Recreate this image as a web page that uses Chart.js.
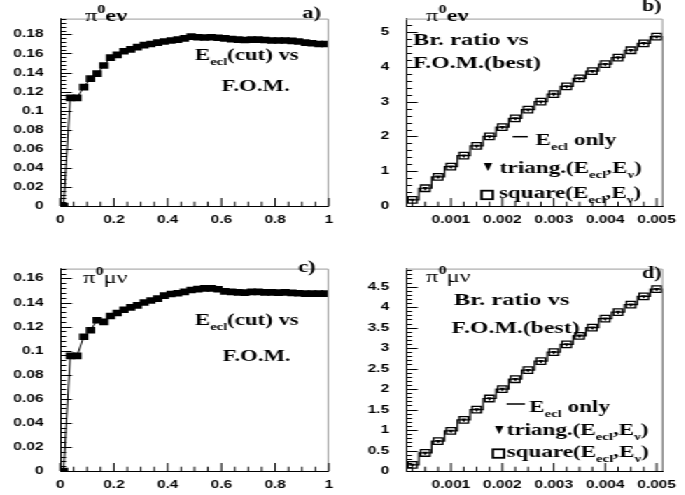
<!DOCTYPE html>
<html>
<head>
<meta charset="utf-8">
<script src="https://cdn.jsdelivr.net/npm/chart.js@4.4.0/dist/chart.umd.min.js"></script>
<style>
html, body { margin: 0; padding: 0; background: #fff; overflow: hidden; }
/* the reference is a squeezed ROOT canvas, so draw narrow and stretch it */
#page { position: absolute; left: 0; top: 0; width: 490px; height: 495px; transform: scaleX(1.4); transform-origin: 0 0; }
#page canvas { position: absolute; }
</style>
</head>
<body>
<div id="page">
  <canvas id="cA" width="245" height="245" style="left:0;top:0"></canvas>
  <canvas id="cB" width="245" height="245" style="left:245px;top:0"></canvas>
  <canvas id="cC" width="245" height="245" style="left:0;top:250px"></canvas>
  <canvas id="cD" width="245" height="245" style="left:245px;top:250px"></canvas>
</div>
<script>
// E_ecl cut scan (bin centres) vs figure of merit
const fomX = [0.0125, 0.0375, 0.0625, 0.0875, 0.1125, 0.1375, 0.1625, 0.1875, 0.2125, 0.2375,
              0.2625, 0.2875, 0.3125, 0.3375, 0.3625, 0.3875, 0.4125, 0.4375, 0.4625, 0.4875,
              0.5125, 0.5375, 0.5625, 0.5875, 0.6125, 0.6375, 0.6625, 0.6875, 0.7125, 0.7375,
              0.7625, 0.7875, 0.8125, 0.8375, 0.8625, 0.8875, 0.9125, 0.9375, 0.9625, 0.9875];
const fomEnu = [0, 0.1135, 0.1135, 0.1247, 0.1336, 0.1388, 0.1474, 0.1556, 0.1586, 0.1624,
                0.1643, 0.1666, 0.1688, 0.1700, 0.1714, 0.1726, 0.1736, 0.1745, 0.1758, 0.1777,
                0.1770, 0.1768, 0.1770, 0.1765, 0.1758, 0.1750, 0.1745, 0.1742, 0.1745, 0.1745,
                0.1742, 0.1736, 0.1736, 0.1736, 0.1733, 0.1726, 0.1714, 0.1707, 0.1700, 0.1700];
const fomMunu = [0, 0.0957, 0.0957, 0.1116, 0.1170, 0.1253, 0.1239, 0.1288, 0.1313, 0.1340,
                 0.1360, 0.1376, 0.1400, 0.1417, 0.1433, 0.1458, 0.1471, 0.1477, 0.1488, 0.1504,
                 0.1512, 0.1518, 0.1518, 0.1510, 0.1493, 0.1488, 0.1485, 0.1482, 0.1488, 0.1488,
                 0.1485, 0.1485, 0.1482, 0.1485, 0.1480, 0.1477, 0.1474, 0.1474, 0.1474, 0.1474];

// branching ratio vs F.O.M.(best)
const brX = [0.00025, 0.0005, 0.00075, 0.001, 0.00125, 0.0015, 0.00175, 0.002, 0.00225, 0.0025,
             0.00275, 0.003, 0.00325, 0.0035, 0.00375, 0.004, 0.00425, 0.0045, 0.00475, 0.005];
const brEnu = [0.175, 0.51, 0.84, 1.13, 1.45, 1.73, 2.0, 2.27, 2.52, 2.77,
               3.0, 3.22, 3.44, 3.67, 3.88, 4.08, 4.27, 4.48, 4.68, 4.87];
const brMunu = [0.15, 0.44, 0.73, 0.98, 1.25, 1.5, 1.77, 2.0, 2.24, 2.46,
                2.68, 2.9, 3.09, 3.3, 3.5, 3.72, 3.88, 4.06, 4.26, 4.44];

// axes
const fomRange = [0, 1];
const brRange = [0.000125, 0.005125];
const xTicksFom = [0, 0.2, 0.4, 0.6, 0.8, 1];
const xTicksBr = [0.001, 0.002, 0.003, 0.004, 0.005];
const yTicksA = [0, 0.02, 0.04, 0.06, 0.08, 0.1, 0.12, 0.14, 0.16, 0.18];
const yTicksB = [0, 1, 2, 3, 4, 5];
const yTicksC = [0, 0.02, 0.04, 0.06, 0.08, 0.1, 0.12, 0.14, 0.16];
const yTicksD = [0, 0.5, 1, 1.5, 2, 2.5, 3, 3.5, 4, 4.5];

const tickFont = { family: '"Liberation Sans", Arial, sans-serif', size: 11, weight: 'bold' };
const fmt = v => String(+Number(v).toFixed(6));

function pts(xs, ys)
{ return xs.map((x, i) => ({ x: x, y: ys[i] })); }

// histogram outline: flat to the frame edges, drop to 0 at the right
function histPoints(xs, ys, range)
{
    const p = pts(xs, ys);
    return [{ x: range[0], y: ys[0] }].concat(p, [{ x: range[1], y: ys[ys.length - 1] }, { x: range[1], y: 0 }]);
}

// ROOT-like ticks inside the frame, grey frame top/right
function eachStep(scale, step, fn)
{
    const start = Math.ceil(scale.min / step - 1e-6);
    for (let i = start; i * step <= scale.max + step * 1e-6; i++) fn(i * step);
}
const innerTicks = {
    id: 'innerTicks',
    afterDraw(chart, args, o) {
        const { ctx, chartArea: a, scales: { x, y } } = chart;
        ctx.save();
        ctx.lineWidth = 1;
        ctx.strokeStyle = '#9a9a9a';
        ctx.beginPath();
        ctx.moveTo(a.left, a.top + 0.5);
        ctx.lineTo(a.right - 0.5, a.top + 0.5);
        ctx.lineTo(a.right - 0.5, a.bottom);
        ctx.stroke();
        ctx.strokeStyle = '#000';
        ctx.beginPath();
        eachStep(y, o.yMinor, v => {
            const major = y.ticks.some(t => Math.abs(t.value - v) < o.yMinor * 1e-3);
            const p = Math.round(y.getPixelForValue(v)) + 0.5;
            ctx.moveTo(a.left, p);
            ctx.lineTo(a.left + (major ? 8.4 : 4.3), p);
        });
        eachStep(x, o.xMinor, v => {
            const major = x.ticks.some(t => Math.abs(t.value - v) < o.xMinor * 1e-3);
            const p = x.getPixelForValue(v);
            ctx.moveTo(p, a.bottom);
            ctx.lineTo(p, a.bottom - (major ? 8 : 4.3));
        });
        ctx.stroke();
        ctx.restore();
    }
};
Chart.register(innerTicks);

// serif text with sub/superscripts
function rich(ctx, x, y, parts, size)
{
    let cx = x;
    ctx.fillStyle = '#000';
    ctx.textBaseline = 'alphabetic';
    ctx.textAlign = 'left';
    for (const [t, kind] of parts)
    {
        let fs = size, dy = 0, w = 'bold';
        if (kind === 'sub') { fs = size * 0.64; dy = size * 0.3; }
        if (kind === 'sup') { fs = size * 0.66; dy = -size * 0.45; }
        if (kind === 'reg') w = 'normal';
        ctx.font = w + ' ' + fs + 'px "Liberation Serif", "Times New Roman", serif';
        ctx.fillText(t, cx, y + dy);
        cx += ctx.measureText(t).width;
    }
}

function notes(draw)
{ return { id: 'notes', afterDraw(chart) { const c = chart.ctx; c.save(); draw(c); c.restore(); } }; }

function legendMarks(ctx, L)
{
    ctx.strokeStyle = '#000';
    ctx.fillStyle = '#000';
    ctx.lineWidth = 1.5;
    ctx.beginPath();
    ctx.moveTo(L.line[0], L.line[2]);
    ctx.lineTo(L.line[1], L.line[2]);
    ctx.stroke();
    rich(ctx, L.t1[0], L.t1[1], [['E', ''], ['ecl', 'sub'], [' only', '']], 16.5);
    const [tx, ty] = L.tri;
    ctx.beginPath();
    ctx.moveTo(tx - 3, ty - 4);
    ctx.lineTo(tx + 3, ty - 4);
    ctx.lineTo(tx, ty + 4);
    ctx.closePath();
    ctx.fill();
    rich(ctx, L.t2[0], L.t2[1], [['triang.(E', ''], ['ecl', 'sub'], [',E', ''], ['ν', 'sub'], [')', '']], 16.5);
    ctx.lineWidth = 1.8;
    ctx.strokeRect(L.sq[0], L.sq[1], 8, 8.5);
    rich(ctx, L.t3[0], L.t3[1], [['square(E', ''], ['ecl', 'sub'], [',E', ''], ['ν', 'sub'], [')', '']], 16.5);
}

function axes(xRange, xTicks, yMax, yTicks, box)
{
    const base = {
        type: 'linear',
        grid: { display: false, drawTicks: false },
        border: { display: true, color: '#000', width: 1 },
    };
    return {
        x: Object.assign({}, base, {
            min: xRange[0], max: xRange[1],
            afterBuildTicks: s => { s.ticks = xTicks.map(v => ({ value: v })); },
            afterFit: s => { s.height = box.h - box.bottom; },
            ticks: { padding: 7, color: '#000', font: tickFont, callback: fmt, maxRotation: 0, autoSkip: false }
        }),
        y: Object.assign({}, base, {
            min: 0, max: yMax,
            afterBuildTicks: s => { s.ticks = yTicks.map(v => ({ value: v })); },
            afterFit: s => { s.width = box.left; },
            ticks: { padding: 12, color: '#000', font: tickFont, callback: fmt, autoSkip: false }
        })
    };
}

function baseOptions(box, scales, minors)
{
    return {
        responsive: false,
        animation: false,
        events: [],
        layout: { autoPadding: false, padding: { left: 0, top: box.top, right: box.w - box.right, bottom: 0 } },
        scales: scales,
        plugins: { legend: { display: false }, tooltip: { enabled: false }, innerTicks: minors }
    };
}

function fomChart(id, ys, yMax, yTicks, box, draw)
{
    return new Chart(document.getElementById(id), {
        type: 'line',
        data: {
            datasets: [{
                data: pts(fomX, ys),
                borderColor: '#000',
                borderWidth: 1,
                tension: 0,
                pointStyle: 'rect',
                pointRadius: 4.7,
                pointBorderWidth: 0,
                pointBackgroundColor: '#000'
            }]
        },
        options: baseOptions(box, axes(fomRange, xTicksFom, yMax, yTicks, box), { xMinor: 0.05, yMinor: 0.004 }),
        plugins: [notes(draw)]
    });
}

function brChart(id, ys, yMax, yTicks, box, yMinor, draw)
{
    return new Chart(document.getElementById(id), {
        type: 'line',
        data: {
            datasets: [
                {
                    label: 'triang.',
                    data: pts(brX, ys),
                    showLine: false,
                    pointStyle: 'triangle',
                    pointRotation: 180,
                    pointRadius: 2.4,
                    pointBorderWidth: 0,
                    pointBackgroundColor: '#000'
                },
                {
                    label: 'square',
                    data: pts(brX, ys),
                    showLine: false,
                    pointStyle: 'rect',
                    pointRadius: 4.6,
                    pointBorderWidth: 1.3,
                    pointBorderColor: '#000',
                    pointBackgroundColor: 'rgba(0,0,0,0)'
                },
                {
                    label: 'E_ecl only',
                    data: histPoints(brX, ys, brRange),
                    stepped: 'middle',
                    borderColor: '#000',
                    borderWidth: 1.2,
                    pointRadius: 0
                }
            ]
        },
        options: baseOptions(box, axes(brRange, xTicksBr, yMax, yTicks, box), { xMinor: 0.00025, yMinor: yMinor }),
        plugins: [notes(draw)]
    });
}

fomChart('cA', fomEnu, 0.1966, yTicksA, { w: 245, h: 245, left: 43, right: 235, top: 1, bottom: 206 }, ctx => {
    rich(ctx, 60.7, 21, [['π', 'reg'], ['0', 'sup'], ['eν', '']], 17.5);
    rich(ctx, 216, 18, [['a)', '']], 16);
    rich(ctx, 139.3, 60, [['E', ''], ['ecl', 'sub'], ['(cut) vs', '']], 16.3);
    rich(ctx, 158.3, 90.5, [['F.O.M.', '']], 16.3);
});

brChart('cB', brEnu, 5.39, yTicksB, { w: 245, h: 245, left: 45, right: 237.5, top: 1, bottom: 206 }, 0.2, ctx => {
    rich(ctx, 59.3, 21, [['π', 'reg'], ['0', 'sup'], ['eν', '']], 17.5);
    rich(ctx, 213.4, 11, [['b)', '']], 16);
    rich(ctx, 50, 45, [['Br. ratio vs', '']], 17.5);
    rich(ctx, 50, 68.3, [['F.O.M.(best)', '']], 17);
    legendMarks(ctx, { line: [121.2, 132.1, 136.7], t1: [137.5, 145], tri: [103.6, 167], t2: [112.1, 173.3], sq: [99, 190.7], t3: [111.4, 197.7] });
});

fomChart('cC', fomMunu, 0.1682, yTicksC, { w: 245, h: 245, left: 43, right: 235, top: 15, bottom: 221 }, ctx => {
    rich(ctx, 59.3, 33, [['π', 'reg'], ['0', 'sup'], ['μν', 'reg']], 17.5);
    rich(ctx, 212.9, 22, [['c)', '']], 16);
    rich(ctx, 139.3, 75, [['E', ''], ['ecl', 'sub'], ['(cut) vs', '']], 16.3);
    rich(ctx, 159, 110.7, [['F.O.M.', '']], 16.3);
});

brChart('cD', brMunu, 4.94, yTicksD, { w: 245, h: 245, left: 45, right: 237.5, top: 15, bottom: 221 }, 0.1, ctx => {
    rich(ctx, 59.3, 32.3, [['π', 'reg'], ['0', 'sup'], ['μν', 'reg']], 17.5);
    rich(ctx, 213.4, 28.3, [['d)', '']], 16);
    rich(ctx, 79.3, 55, [['Br. ratio vs', '']], 17.5);
    rich(ctx, 77.6, 83.3, [['F.O.M.(best)', '']], 17);
    legendMarks(ctx, { line: [116.9, 130, 154], t1: [133, 161.7], tri: [111.6, 180], t2: [116.9, 185], sq: [107.1, 199.3], t3: [116.9, 207.3] });
});
</script>
</body>
</html>
